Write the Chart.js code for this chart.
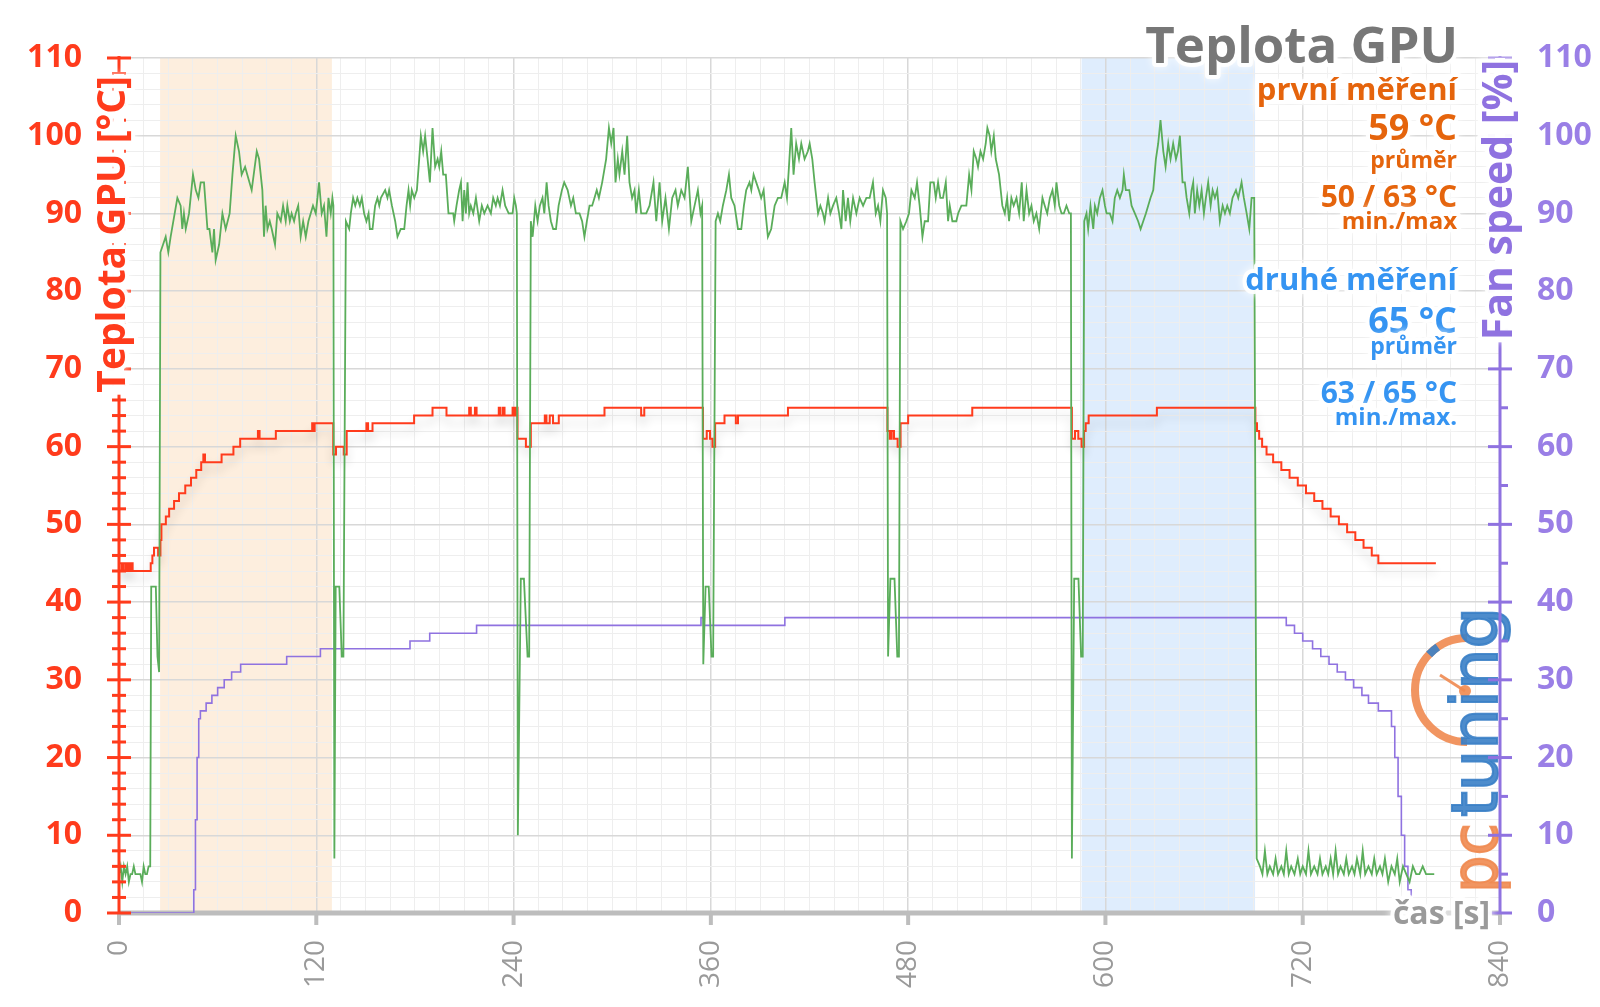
<!DOCTYPE html>
<html>
<head>
<meta charset="utf-8">
<title>Teplota GPU</title>
<script src="https://cdn.jsdelivr.net/npm/chart.js@4.4.0/dist/chart.umd.min.js"></script>
<style>
  html, body { margin: 0; padding: 0; background: #fff; }
  #wrap { width: 1600px; height: 1007px; }
</style>
</head>
<body>
<div id="wrap"><canvas id="chart" width="1600" height="1007"></canvas></div>
<script>
'use strict'

// green line (load), seconds / value on the left scale
const loadTime = [
  0,1,2,3,4,5,6,7,8,9,
  10,11,12,13,14,15,16,17,18,19,
  19.6,22.4,23.4,24.4,25.2,28.4,30,31.4,35.5,37.5,
  38.5,39.5,40.6,42.6,45,46.7,48.3,49.7,51.7,53.8,
  55,56.8,57.8,58.8,60.9,62.9,64.9,67.3,69,71,
  73,74.6,76.7,78,80.7,83.8,85.2,87.2,88.2,89.2,
  90.3,91.7,92.9,94.9,96.3,98.4,99.8,101.4,102.4,103.9,
  105,106.5,107.5,109,110.5,112,113.6,115.2,116.6,118,
  119.7,121.7,123.3,124.7,126.2,127.4,128.8,129.8,130.4,131,
  131.8,134,135.5,136.5,138,140,141,142.4,143.7,145,
  146.5,147.7,149.1,150.5,151.8,152.6,154.2,155.8,157.2,158.3,
  159.3,161.9,163.3,164.3,166,168,169.4,171.4,173.5,174.9,
  176.1,177.1,178.1,179.6,181.2,182.6,183.6,185,186.2,187.7,
  189.1,190.7,192.3,193.8,194.8,196,197.2,198.8,200.4,203.3,
  203.9,205.3,206.9,208,209,210,211,212,213,214,
  215.5,217.1,219.1,220.7,222.2,224.2,226.2,227.6,229.2,230.3,
  231.7,233.3,234.9,237,239.4,240.4,241.4,242,242.6,244.4,
  246.3,248.5,249.5,250.5,251.6,253.2,254.6,256,257.6,258.7,
  260.1,261.3,262.7,264.1,265.8,267.4,269.4,270.8,272.9,274.9,
  276.3,277.9,280.1,281.7,283.1,284.6,286.2,287.8,289.2,290.6,
  291.9,293.9,296.3,298,299.4,300.8,302,303.4,304.4,306.1,
  307.5,309.1,310.5,312.1,313.6,314.6,316.2,317.6,320.7,322.7,
  325.1,326.8,328.8,330.4,332.4,334.5,336.5,338.5,339.9,342,
  344,346,348.1,350.1,352.1,353.7,354.7,355.4,356.8,358.7,
  360.4,361.4,362.9,364.3,365.7,367.3,369.4,371,372.4,374.4,
  376.5,378.5,380.1,381.5,383.5,384.6,386,387.6,389.2,390.6,
  392.1,393.3,394.7,396.7,398.8,400.8,402.8,404.9,406.3,407.5,
  408.9,410.3,411.9,413.6,415,417,419,420.1,421.7,423.1,
  425.2,426.6,428.2,429.2,431.3,432.7,434.3,436.3,438,439.4,
  440.4,442,443.4,444.8,446.5,448.5,450.5,452.6,454.6,456.6,
  458.6,460.3,461.7,463.1,464.7,466.4,467.2,467.8,469.2,471.7,
  473.4,474.4,475.3,476.9,478.9,480.5,482,484,485.4,487,
  488.7,490.1,492.1,493.5,495.6,496.8,498.2,499.6,501.2,502.9,
  504.3,505.3,506.9,509.3,510.4,512.4,515.4,517.1,518.5,519.9,
  521.5,522.5,524,525.6,527.2,528.2,529.6,530.6,532.1,533.3,
  535.3,537.3,538.8,540.2,541.4,542.8,544.2,545.9,547.5,549.1,
  550.3,552,553.6,555,556.4,558,559.7,561.7,563.1,564.6,
  566.2,567.8,569.2,570.2,571.9,573.3,574.7,576.3,578,579,
  579.6,581,583.6,585.2,586.2,587.1,588.5,589.5,590.9,592.6,
  593.6,595,596.6,598.2,599.7,600.7,602.7,604.3,605.7,607.2,
  608.8,610.4,611.2,612.4,614.5,615.9,617.9,619.9,621.4,623,
  624.6,626,627.4,629.1,630.7,632.1,633.5,635.2,636.6,638.2,
  639.6,641.2,642.9,644.1,645.3,646.9,648.3,649.4,651,652.4,
  653.4,654.4,655.8,657.1,658.5,659.9,661.1,662.5,664,665.2,
  666.6,668,669.6,671.3,672.7,674.1,675.7,677.3,679.4,680.8,
  682.8,684.2,685.9,687.5,688.9,690.5,692,694,695.5,697,
  698.5,700,702,703.5,705,707,708.5,710,711.5,713,
  715,717,718.5,720,722,723.5,725,727,729,730.5,
  732,734,735.5,737,738.5,740,741.5,743,745,746.5,
  748,750,751.5,753,755,756.5,758,760,762,763.5,
  765,767,768.5,770,772,774,776,777.5,779,781,
  783,785,787,789,791,793,795,797,800
]
const loadValue = [
  5,6,4,6,5,6,4,5,5,6,
  5,5,5,5,4,6,5,5,6,6,
  42,42,33,31,85,87,85,87,92,91,
  88,90,88,90,95,93,92,94,94,88,
  88,85,88,84,86,90,88,90,95,100,
  98,95,96,95,93,98,97,93,87,91,
  88,89,88,86,90,89,91,89,91,89,
  90,89,90,91,87,89,87,89,90,91,
  90,94,90,91,87,92,90,92,91,7,
  42,42,33,33,89,88,90,92,91,92,
  91,92,90,89,90,88,88,91,92,91,
  92,93,92,93,91,89,87,88,88,91,
  93,91,93,92,93,97,100,98,100,97,
  94,101,96,97,96,98,95,95,90,90,
  89,91,93,94,89,93,90,94,90,91,
  90,92,89,91,90,91,90,92,91,92,
  91,93,91,90,90,92,91,90,10,43,
  43,33,33,89,87,91,89,91,92,90,
  94,91,89,88,88,91,93,94,93,91,
  92,90,90,89,87,89,91,91,92,93,
  92,94,97,101,99,101,94,97,95,98,
  95,100,94,92,93,90,93,90,90,91,
  94,89,94,89,92,88,92,93,91,93,
  92,96,89,91,93,90,91,32,42,42,
  33,33,89,90,89,91,93,95,92,91,
  88,88,91,93,94,93,95,94,93,92,
  93,90,87,88,91,92,92,94,92,96,
  101,95,99,97,99,97,98,99,97,94,
  90,91,90,89,92,90,91,92,90,88,
  93,89,92,89,92,90,92,91,92,92,
  94,90,91,89,93,92,90,33,43,43,
  33,33,89,88,89,90,93,92,94,91,
  87,89,89,94,94,92,94,92,92,94,
  89,91,89,89,90,91,91,95,93,98,
  97,96,98,97,99,101,100,98,100,97,
  95,91,90,92,89,92,91,92,90,94,
  89,93,90,91,89,90,88,92,91,90,
  92,93,91,94,91,90,90,91,90,90,
  7,43,43,33,33,89,90,88,91,88,
  91,90,92,93,91,90,90,89,92,93,
  92,93,95,93,93,91,90,89,88,89,
  90,91,92,93,97,99,102,98,96,99,
  97,99,97,98,100,94,94,92,90,93,
  94,90,93,91,93,90,92,94,91,93,
  92,93,89,91,90,91,90,92,93,92,
  94,92,90,88,92,92,7,6,5,8,
  5,6,5,7,5,6,5,8,5,6,
  5,7,5,6,5,8,5,6,5,7,
  5,6,5,7,5,8,5,6,5,7,
  5,6,5,7,5,8,5,6,5,7,
  5,6,5,7,4,6,5,7,4,6,
  5,4,6,5,5,6,5,5,5
]

// GPU temperature, change points (value holds until the next time)
const tempTime = [
  0,1.5,2.5,3.8,4.8,6,7.2,8.3,19.3,20.3,
  21.3,23.8,25.2,25.8,28.5,30.5,33.5,36.5,40.3,43.8,
  47,50,51.3,52.3,62.4,69.6,73.7,84.5,85.5,95.4,
  117.5,118.3,119,130.3,132,136.7,138.5,150.5,151.5,154.2,
  179.5,190.7,199.2,213,214,216.5,217.5,231,232,233.5,
  234.5,239.4,240.4,241.4,242.4,247.5,250.5,259,260,262,
  264,267.5,295.3,317.6,319.5,355.2,357.5,359.5,361,362.6,
  368.3,375.2,376.5,406.9,467.4,468.8,470,471.4,473.6,475.4,
  480,519,579.6,581.5,583.5,585.5,587,588,589.8,631.3,
  691.2,692.2,693.5,695.3,698,702,707,712,717,722,
  727,732,737,742,747,752,757,762,766,801
]
const tempValue = [
  45,44,45,44,45,44,45,44,45,46,
  47,46,48,50,51,52,53,54,55,56,
  57,58,59,58,59,60,61,62,61,62,
  63,62,63,59,60,59,62,63,62,63,
  64,65,64,65,64,65,64,65,64,65,
  64,65,64,65,61,60,63,64,63,64,
  63,64,65,64,65,61,62,61,60,63,
  64,63,64,65,62,61,62,61,60,63,
  64,65,61,62,61,60,62,63,64,65,
  63,62,61,60,59,58,57,56,55,54,
  53,52,51,50,49,48,47,46,45,45
]

// fan speed in %, change points
const fanTime = [
  0,45.5,46.5,47.5,48.5,49.5,53,56.5,60,64,
  68.5,74,102,122.5,177,189,217.5,354,355.5,405,
  710,715,720,726,731,736,741,746,751,756,
  760,766,774,776,778,780,782,784,786
]
const fanValue = [
  0,3,12,20,25,26,27,28,29,30,
  31,32,33,34,35,36,37,38,37,38,
  37,36,35,34,33,32,31,30,29,28,
  27,26,24,20,15,10,6,3,2
]

// the two highlighted runs (seconds)
const firstRun = [25, 129.5]
const secondRun = [585.5, 691]

const timeLabels = [0, 120, 240, 360, 480, 600, 720, 840]

const tempColor = '#ff3b1c'
const fanColor = '#8f72e0'
const loadColor = '#5aad5a'
const grey = '#9a9a9a'
const FONT = '"Open Sans"'

function points(xs, ys) {
  if (xs.length !== ys.length) console.error('length mismatch', xs.length, ys.length)
  return xs.map((x, i) => ({ x: x, y: ys[i] }))
}

function line(ctx, x1, y1, x2, y2) {
  ctx.beginPath()
  ctx.moveTo(x1, y1)
  ctx.lineTo(x2, y2)
  ctx.stroke()
}

function haloText(ctx, text, x, y, size, color, align) {
  ctx.save()
  ctx.font = 'bold ' + size + 'px ' + FONT
  ctx.textAlign = align || 'right'
  ctx.textBaseline = 'alphabetic'
  ctx.lineJoin = 'round'
  ctx.shadowColor = 'rgba(255,255,255,1)'
  ctx.shadowBlur = 8
  ctx.strokeStyle = 'rgba(255,255,255,0.9)'
  ctx.lineWidth = 8
  ctx.strokeText(text, x, y)
  ctx.shadowBlur = 0
  ctx.fillStyle = color
  ctx.fillText(text, x, y)
  ctx.restore()
}

// vertical title reading upwards, its end at yTop; axisX is hidden behind it
function rotatedTitle(ctx, text, x, yTop, size, color, axisX) {
  ctx.save()
  ctx.font = 'bold ' + size + 'px ' + FONT
  const w = ctx.measureText(text).width
  ctx.fillStyle = '#fff'
  ctx.fillRect(axisX - 5, yTop - 2, 10, w + 4)
  ctx.translate(x, yTop)
  ctx.rotate(-Math.PI / 2)
  haloText(ctx, text, 0, 0, size, color, 'right')
  ctx.restore()
}

function drawLogo(ctx) {
  ctx.save()
  ctx.globalAlpha = 0.9
  // gauge
  ctx.lineCap = 'butt'
  ctx.strokeStyle = '#f08a50'
  ctx.lineWidth = 8
  ctx.beginPath()
  ctx.arc(1467, 690, 52, Math.PI / 2, Math.PI * 1.5)
  ctx.stroke()
  ctx.strokeStyle = '#3a7fc6'
  ctx.beginPath()
  ctx.arc(1467, 690, 52, Math.PI * 1.24, Math.PI * 1.31)
  ctx.stroke()
  ctx.strokeStyle = '#f08a50'
  ctx.lineWidth = 3
  line(ctx, 1465, 691, 1440, 675)
  ctx.fillStyle = '#f08a50'
  ctx.beginPath()
  ctx.arc(1465, 691, 6, 0, Math.PI * 2)
  ctx.fill()

  // vertical "pctuning"
  ctx.translate(1497, 893)
  ctx.rotate(-Math.PI / 2)
  ctx.font = '64px "DejaVu Sans"'
  ctx.textBaseline = 'alphabetic'
  ctx.textAlign = 'left'
  const parts = [['pc', 0, 70, '#f08a50'], ['tuning', 76, 210, '#3a7fc6']]
  for (const [txt, start, len, col] of parts) {
    const w = ctx.measureText(txt).width
    ctx.save()
    ctx.translate(start, 0)
    ctx.scale(len / w, 1)
    ctx.fillStyle = col
    ctx.strokeStyle = col
    ctx.lineWidth = 2
    ctx.fillText(txt, 0, 0)
    ctx.strokeText(txt, 0, 0)
    ctx.restore()
  }
  ctx.restore()
}

const decor = {
  id: 'decor',
  beforeDraw(chart) {
    const { ctx, chartArea: a, scales: { x } } = chart
    ctx.save()
    ctx.fillStyle = '#fff'
    ctx.fillRect(0, 0, chart.width, chart.height)
    ctx.fillStyle = 'rgba(252, 226, 200, 0.6)'
    const x1 = x.getPixelForValue(firstRun[0])
    ctx.fillRect(x1, a.top, x.getPixelForValue(firstRun[1]) - x1, a.bottom - a.top)
    ctx.fillStyle = 'rgba(196, 222, 252, 0.55)'
    const x2 = x.getPixelForValue(secondRun[0])
    ctx.fillRect(x2, a.top, x.getPixelForValue(secondRun[1]) - x2, a.bottom - a.top)
    ctx.restore()
  },
  beforeDatasetsDraw(chart) {
    // time axis sits under the lines
    const { ctx, chartArea: a, scales: { x } } = chart
    ctx.save()
    ctx.lineCap = 'butt'
    ctx.strokeStyle = '#bdbdbd'
    ctx.lineWidth = 5
    line(ctx, a.left, a.bottom, a.right, a.bottom)
    ctx.lineWidth = 4
    for (const t of timeLabels) {
      const px = x.getPixelForValue(t)
      line(ctx, px, a.bottom, px, a.bottom + 12)
    }
    ctx.restore()
  },
  beforeDatasetDraw(chart, args) {
    if (args.index === 1) {
      const ctx = chart.ctx
      ctx.save()
      ctx.shadowColor = 'rgba(0,0,0,0.16)'
      ctx.shadowBlur = 10
      ctx.shadowOffsetY = 8
    }
  },
  afterDatasetDraw(chart, args) {
    if (args.index === 1) chart.ctx.restore()
  },
  afterDatasetsDraw(chart) {
    drawLogo(chart.ctx)
  },
  afterDraw(chart) {
    const { ctx, chartArea: a, scales: { y, y1 } } = chart
    ctx.save()
    ctx.lineCap = 'butt'

    // temperature axis
    ctx.strokeStyle = tempColor
    ctx.lineWidth = 3
    line(ctx, a.left, a.top - 2, a.left, a.bottom)
    for (let v = 0; v <= 110; v += 2) {
      const py = y.getPixelForValue(v)
      const len = v % 10 === 0 ? 12 : 7
      line(ctx, a.left - len, py, a.left + len, py)
    }

    // fan axis
    ctx.strokeStyle = fanColor
    line(ctx, a.right, a.top - 2, a.right, a.bottom)
    for (let v = 0; v <= 110; v += 5) {
      const py = y1.getPixelForValue(v)
      if (v % 10 === 0) line(ctx, a.right - 12, py, a.right + 12, py)
      else line(ctx, a.right, py, a.right + 8, py)
    }
    ctx.restore()

    // axis titles
    rotatedTitle(ctx, 'Teplota GPU [°C]', 125, 76, 39, tempColor, a.left)
    rotatedTitle(ctx, 'Fan speed [%]', 1512, 60, 41, fanColor, a.right)
    haloText(ctx, 'čas [s]', 1490, 924, 32, grey, 'right')

    // summary block
    const orange = '#e5640c'
    const blue = '#3594f2'
    haloText(ctx, 'Teplota GPU', 1458, 63, 51, '#777777')
    haloText(ctx, 'první měření', 1457, 100, 31, orange)
    haloText(ctx, '59 °C', 1457, 140, 36, orange)
    haloText(ctx, 'průměr', 1457, 168, 23, orange)
    haloText(ctx, '50 / 63 °C', 1457, 207, 30, orange)
    haloText(ctx, 'min./max', 1457, 229, 24, orange)
    haloText(ctx, 'druhé měření', 1457, 290, 31, blue)
    haloText(ctx, '65 °C', 1457, 333, 36, blue)
    haloText(ctx, 'průměr', 1457, 354, 23, blue)
    haloText(ctx, '63 / 65 °C', 1457, 403, 30, blue)
    haloText(ctx, 'min./max.', 1457, 425, 24, blue)
  }
}

const ctx = document.getElementById('chart').getContext('2d')
const chart = new Chart(ctx, {
  type: 'line',
  data: {
    datasets: [{
      label: 'Load',
      data: points(loadTime, loadValue),
      borderColor: loadColor,
      borderWidth: 1.8,
      pointRadius: 0,
      yAxisID: 'y'
    }, {
      label: 'Teplota GPU',
      data: points(tempTime, tempValue),
      stepped: 'before',
      borderColor: tempColor,
      borderWidth: 2,
      pointRadius: 0,
      yAxisID: 'y'
    }, {
      label: 'Fan speed',
      data: points(fanTime, fanValue),
      stepped: 'before',
      borderColor: fanColor,
      borderWidth: 1.6,
      pointRadius: 0,
      yAxisID: 'y1'
    }]
  },
  options: {
    responsive: false,
    animation: false,
    devicePixelRatio: 1,
    layout: { padding: { top: 58, left: 27, right: 0, bottom: 0 } },
    plugins: {
      legend: { display: false },
      tooltip: { enabled: false }
    },
    scales: {
      x: {
        type: 'linear',
        min: 0,
        max: 840,
        border: { display: false },
        grid: {
          drawTicks: false,
          color: c => c.tick.value % 120 === 0 ? '#d8d8d8' : '#eeeeee',
          lineWidth: c => c.tick.value % 120 === 0 ? 1.5 : 1
        },
        ticks: {
          stepSize: 15,
          autoSkip: false,
          minRotation: 90,
          maxRotation: 90,
          padding: 27,
          color: grey,
          font: { family: FONT, size: 28 },
          callback: v => v % 120 === 0 ? String(v) : ''
        },
        afterFit: s => { s.height = 94 }
      },
      y: {
        position: 'left',
        min: 0,
        max: 110,
        border: { display: false },
        grid: {
          drawTicks: false,
          color: c => c.tick.value % 10 === 0 ? '#d8d8d8' : '#eeeeee',
          lineWidth: c => c.tick.value % 10 === 0 ? 1.5 : 1
        },
        ticks: {
          stepSize: 2,
          autoSkip: false,
          padding: 37,
          color: tempColor,
          font: { family: FONT, size: 32, weight: 'bold' },
          callback: v => v % 10 === 0 ? String(v) : ''
        },
        afterFit: s => { s.width = 92 }
      },
      y1: {
        position: 'right',
        min: 0,
        max: 110,
        border: { display: false },
        grid: { display: false, drawTicks: false },
        ticks: {
          stepSize: 2,
          autoSkip: false,
          padding: 37,
          color: '#9a7fe6',
          font: { family: FONT, size: 32, weight: 'bold' },
          callback: v => v % 10 === 0 ? String(v) : ''
        },
        afterFit: s => { s.width = 100 }
      }
    }
  },
  plugins: [decor]
})
</script>
</body>
</html>
